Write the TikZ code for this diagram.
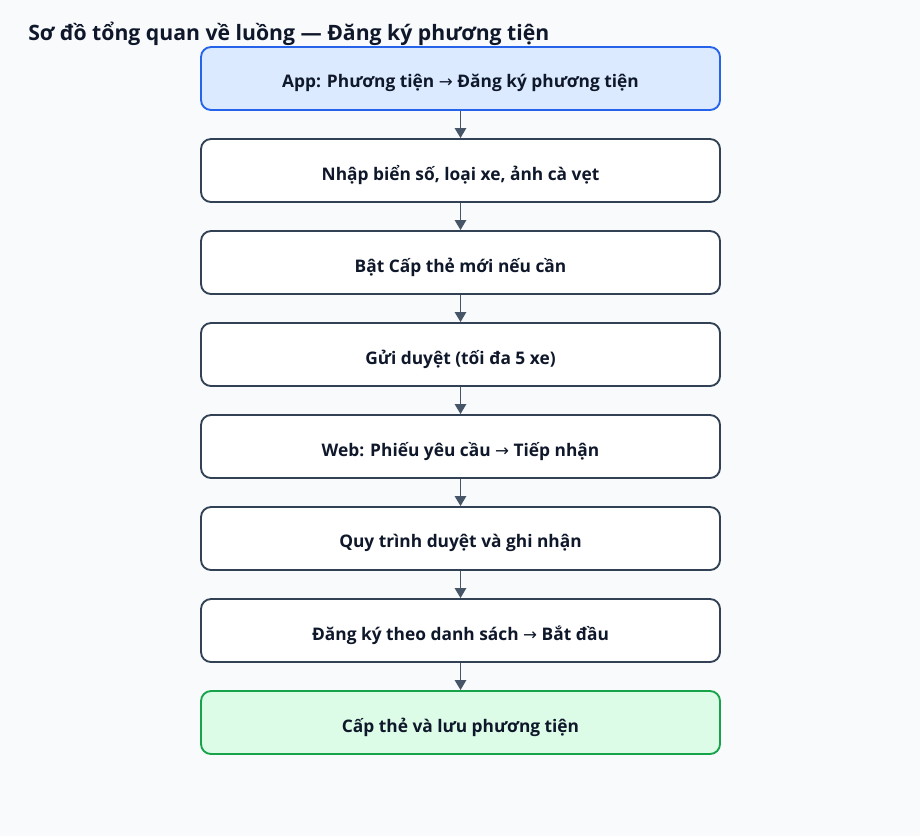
\documentclass[tikz,border=0pt]{standalone}
\usepackage{fontspec}
\setmainfont{Open Sans}
\newfontfamily\arrowfont{DejaVu Sans}
\usetikzlibrary{arrows.meta}
\definecolor{bgc}{HTML}{F8FAFC}
\definecolor{txt}{HTML}{0F172A}
\definecolor{edge}{HTML}{334155}
\definecolor{arr}{HTML}{475569}
\definecolor{bluef}{HTML}{DBEAFE}
\definecolor{blued}{HTML}{2563EB}
\definecolor{greenf}{HTML}{DCFCE7}
\definecolor{greend}{HTML}{16A34A}
\newcommand{\ar}{{\arrowfont\mdseries\fontsize{12.5}{14}\selectfont →}}
\newcommand{\lbl}[1]{\raisebox{-3.5pt}[\height][\depth]{#1}}
\tikzset{
  stepbox/.style={draw=edge, fill=white, line width=1.4pt, rounded corners=7.5pt,
    minimum width=389.25pt, minimum height=47.25pt, inner sep=0pt,
    font=\bfseries\fontsize{13}{15}\selectfont, text=txt},
  startbox/.style={stepbox, draw=blued, fill=bluef},
  endbox/.style={stepbox, draw=greend, fill=greenf},
  flow/.style={draw=arr, line width=1.4pt, -{Triangle[length=7.5pt,width=8.5pt]}}
}
\begin{document}
\begin{tikzpicture}[x=0.75pt,y=-0.75pt]
\fill[bgc] (0,0) rectangle (920,836);
\useasboundingbox (0,0) rectangle (920,836);
\node[anchor=base west, font=\bfseries\fontsize{15.9}{19}\selectfont, text=txt, inner sep=0pt] (title) at (28,40) {Sơ đồ tổng quan về luồng — Đăng ký phương tiện};
\node[startbox] (n1) at (460.5,78.5) {\lbl{App: Phương tiện \ar{} Đăng ký phương tiện}};
\node[stepbox] (n2) at (460.5,170.5) {\lbl{Nhập biển số, loại xe, ảnh cà vẹt}};
\node[stepbox] (n3) at (460.5,262.5) {\lbl{Bật Cấp thẻ mới nếu cần}};
\node[stepbox] (n4) at (460.5,354.5) {\lbl{Gửi duyệt (tối đa 5 xe)}};
\node[stepbox] (n5) at (460.5,446.5) {\lbl{Web: Phiếu yêu cầu \ar{} Tiếp nhận}};
\node[stepbox] (n6) at (460.5,538.5) {\lbl{Quy trình duyệt và ghi nhận}};
\node[stepbox] (n7) at (460.5,630.5) {\lbl{Đăng ký theo danh sách \ar{} Bắt đầu}};
\node[endbox] (n8) at (460.5,722.5) {\lbl{Cấp thẻ và lưu phương tiện}};
\foreach \a/\b in {n1/n2,n2/n3,n3/n4,n4/n5,n5/n6,n6/n7,n7/n8}
  \draw[flow] (\a) -- (\b);
\end{tikzpicture}
\end{document}
